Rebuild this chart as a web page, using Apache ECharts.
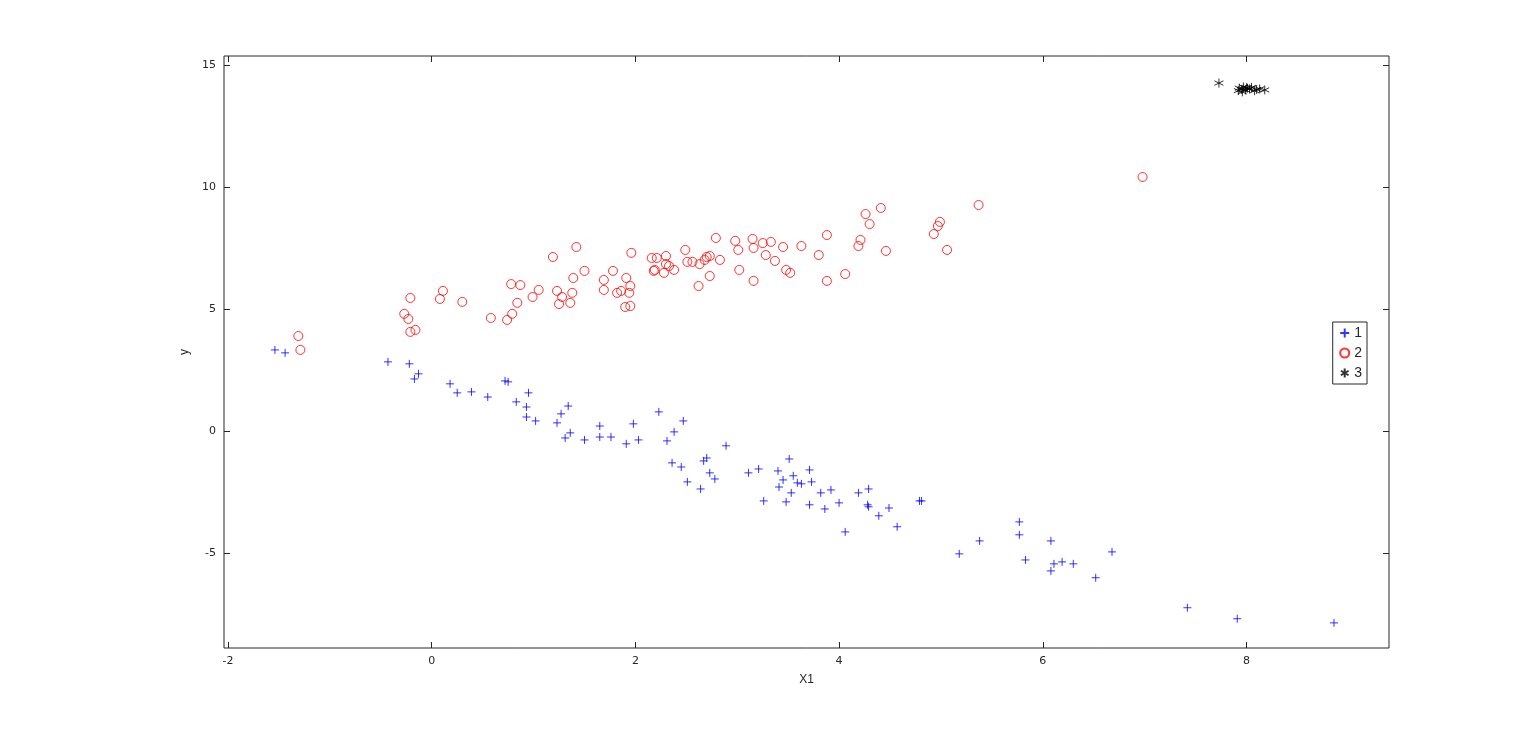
<!DOCTYPE html>
<html><head><meta charset="utf-8">
<script src="https://cdn.jsdelivr.net/npm/echarts@6/dist/echarts.min.js"></script>
<style>html,body{margin:0;padding:0;background:#fff}#c{width:1536px;height:744px}</style>
</head><body><div id="c"></div>
<script>
const g1x=[-1.54,-1.44,-0.43,-0.22,-0.17,-0.13,0.18,0.25,0.39,0.55,0.72,0.75,0.83,0.93,0.95,0.93,1.02,1.23,1.27,1.34,1.31,1.36,1.50,1.65,1.65,1.76,1.91,1.98,2.03,2.23,2.31,2.38,2.36,2.45,2.47,2.51,2.64,2.67,2.70,2.73,2.78,2.89,3.11,3.21,3.26,3.40,3.41,3.45,3.48,3.51,3.53,3.55,3.59,3.63,3.71,3.71,3.73,3.82,3.86,3.92,4.00,4.06,4.19,4.28,4.29,4.29,4.39,4.49,4.57,4.79,4.81,5.18,5.38,5.77,5.77,5.83,6.08,6.08,6.11,6.19,6.30,6.52,6.68,7.42,7.91,8.86];
const g1y=[3.32,3.20,2.83,2.75,2.13,2.34,1.93,1.56,1.60,1.39,2.05,2.01,1.19,0.98,1.56,0.57,0.41,0.33,0.70,1.02,-0.29,-0.08,-0.37,0.20,-0.25,-0.25,-0.53,0.29,-0.37,0.78,-0.41,-0.04,-1.31,-1.48,0.41,-2.09,-2.38,-1.23,-1.11,-1.72,-1.97,-0.61,-1.72,-1.56,-2.87,-1.64,-2.30,-2.01,-2.91,-1.15,-2.54,-1.84,-2.13,-2.17,-1.60,-3.03,-2.09,-2.54,-3.20,-2.42,-2.95,-4.14,-2.54,-3.03,-3.11,-2.38,-3.48,-3.16,-3.93,-2.87,-2.87,-5.04,-4.51,-3.73,-4.26,-5.29,-4.51,-5.74,-5.45,-5.37,-5.45,-6.02,-4.96,-7.25,-7.70,-7.87];
const g2x=[-1.31,-1.29,-0.27,-0.23,-0.21,-0.21,-0.16,0.08,0.11,0.30,0.58,0.74,0.78,0.79,0.84,0.87,0.99,1.05,1.19,1.23,1.25,1.28,1.36,1.38,1.39,1.42,1.50,1.69,1.69,1.78,1.82,1.86,1.90,1.91,1.94,1.95,1.95,1.96,2.16,2.18,2.19,2.21,2.28,2.30,2.30,2.33,2.38,2.49,2.51,2.56,2.62,2.63,2.68,2.70,2.73,2.73,2.79,2.83,2.98,3.01,3.02,3.15,3.16,3.16,3.25,3.28,3.33,3.37,3.45,3.48,3.52,3.63,3.80,3.88,3.88,4.06,4.19,4.21,4.26,4.30,4.41,4.46,4.93,4.97,4.99,5.06,5.37,6.98];
const g2y=[3.89,3.32,4.80,4.59,4.06,5.45,4.14,5.41,5.74,5.29,4.63,4.55,6.02,4.80,5.25,5.98,5.49,5.78,7.13,5.74,5.20,5.49,5.25,5.66,6.27,7.54,6.56,6.19,5.78,6.56,5.66,5.74,5.08,6.27,5.66,5.94,5.12,7.30,7.09,6.56,6.60,7.09,6.48,7.17,6.84,6.76,6.60,7.42,6.93,6.93,5.94,6.84,7.01,7.13,6.35,7.17,7.91,7.01,7.79,7.42,6.60,7.87,7.50,6.15,7.70,7.21,7.75,6.97,7.54,6.60,6.48,7.58,7.21,8.03,6.15,6.43,7.58,7.83,8.89,8.48,9.14,7.38,8.07,8.40,8.57,7.42,9.26,10.41];
const g3x=[7.73,7.92,7.93,7.95,7.97,7.99,8.01,8.03,8.05,8.08,8.10,8.13,8.18,7.96,8.00];
const g3y=[14.26,13.95,14.05,14.00,14.10,13.98,14.05,14.02,14.08,13.95,14.00,14.02,13.98,13.90,14.07];
const xTicks=[-2,0,2,4,6,8];
const yTicks=[-5,0,5,10,15];
const names=['1','2','3'];
const zip=(a,b)=>a.map((v,i)=>[v,b[i]]);
const plus='path://M0,5L10,5M5,0L5,10';
const star='path://M5,0L5,10M0.7,2.5L9.3,7.5M0.7,7.5L9.3,2.5';
const ax={color:'#262626',fontSize:11,fontFamily:'DejaVu Sans'};
function xa(pos,show){return {type:'value',position:pos,min:-2.04,max:9.4,splitLine:{show:false},
 axisLine:{show:false,onZero:false},axisTick:{show:true,inside:true,length:6,customValues:xTicks,lineStyle:{color:'#262626'}},
 axisLabel:{show:show,customValues:xTicks,margin:8,...ax},
 name:show?'X1':'',nameLocation:'middle',nameGap:26,nameTextStyle:{color:'#262626',fontSize:12}};}
function ya(pos,show){return {type:'value',position:pos,min:-8.9,max:15.37,splitLine:{show:false},
 axisLine:{show:false,onZero:false},axisTick:{show:true,inside:true,length:6,customValues:yTicks,lineStyle:{color:'#262626'}},
 axisLabel:{show:show,customValues:yTicks,margin:8,...ax},
 name:show?'y':'',nameLocation:'middle',nameGap:17,nameTextStyle:{color:'#262626',fontSize:12}};}
const chart=echarts.init(document.getElementById('c'));
chart.setOption({
 animation:false,
 grid:{left:224,right:147,top:56,bottom:96,show:true,borderColor:'#262626',borderWidth:1,backgroundColor:'#fff'},
 xAxis:[xa('bottom',true),xa('top',false)],
 yAxis:[ya('left',true),ya('right',false)],
 legend:{orient:'vertical',right:169,top:322,backgroundColor:'#fff',borderColor:'#262626',borderWidth:1,padding:[4,5,4,5],itemGap:6,itemWidth:9,itemHeight:9,
  textStyle:{fontSize:14,color:'#262626'},data:names},
 series:[
  {name:names[0],type:'scatter',data:zip(g1x,g1y),symbol:plus,symbolSize:8,itemStyle:{color:'none',borderColor:'#0000ff',borderWidth:1}},
  {name:names[1],type:'scatter',data:zip(g2x,g2y),symbol:'circle',symbolSize:9,itemStyle:{color:'none',borderColor:'#ff0000',borderWidth:1}},
  {name:names[2],type:'scatter',data:zip(g3x,g3y),symbol:star,symbolSize:9,itemStyle:{color:'none',borderColor:'#000000',borderWidth:1}}
 ]
});
</script></body></html>
